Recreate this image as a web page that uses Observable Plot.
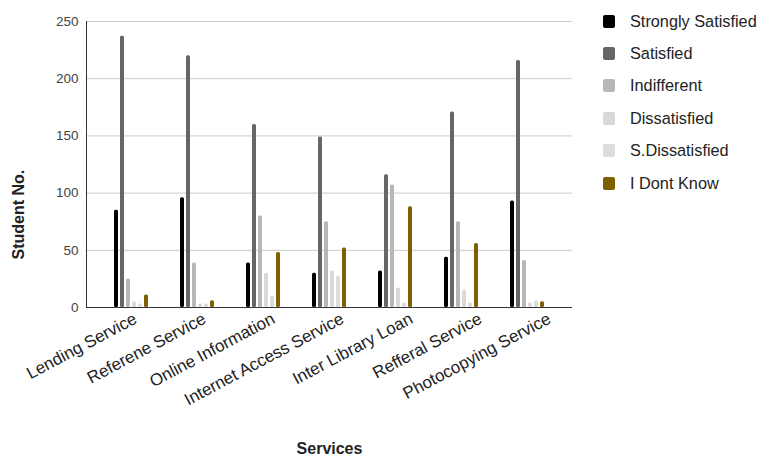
<!DOCTYPE html>
<html>
<head>
<meta charset="utf-8">
<script src="https://cdn.jsdelivr.net/npm/d3@7"></script>
<script src="https://cdn.jsdelivr.net/npm/@observablehq/plot@0.6"></script>
<style>
  html, body { margin: 0; padding: 0; background: #fff; }
  #chart { position: relative; width: 757px; height: 455px; font-family: "Liberation Sans", Arial, sans-serif; }
  #chart svg { position: absolute; left: 0; top: 0; }
  #legend { position: absolute; left: 603px; top: 5px; }
  .item { display: flex; align-items: center; height: 32.4px; font-size: 16.3px; color: #222; }
  .swatch { width: 12px; height: 13px; border-radius: 2px; margin-right: 15px; }
</style>
</head>
<body>
<div id="chart"><div id="legend"></div></div>
<script>
// Services surveyed (one group of bars each)
const services = [
  "Lending Service", "Referene Service", "Online Information",
  "Internet Access Service", "Inter Library Loan", "Refferal Service",
  "Photocopying Service"
];

// Response categories and their colours
const categories = ["Strongly Satisfied", "Satisfied", "Indifferent", "Dissatisfied", "S.Dissatisfied", "I Dont Know"];
const colors = ["#000000", "#666666", "#b7b7b7", "#d9d9d9", "#dcdcdc", "#7f6000"];

// Number of students per response, in service order
const stronglySatisfied = [85, 96, 39, 30, 32, 44, 93];
const satisfied         = [237, 220, 160, 149, 116, 171, 216];
const indifferent       = [25, 39, 80, 75, 107, 75, 41];
const dissatisfied      = [5, 3, 30, 32, 17, 15, 4];
const sDissatisfied     = [3, 3, 10, 27, 4, 4, 6];
const dontKnow          = [11, 6, 48, 52, 88, 56, 5];

const yTicks = [0, 50, 100, 150, 200, 250];

const series = [stronglySatisfied, satisfied, indifferent, dissatisfied, sDissatisfied, dontKnow];
const rows = services.flatMap((service, i) =>
  categories.map((category, j) => ({service, category, value: series[j][i]}))
);

// Shared layout for the three layers
const frame = {
  width: 757,
  height: 455,
  marginLeft: 86,
  marginRight: 185,
  marginTop: 21,
  marginBottom: 148,
  style: {fontFamily: "'Liberation Sans', Arial, sans-serif", fontSize: "13px", color: "#444", background: "transparent"}
};

// Back layer: grid, axes and titles
const axes = Plot.plot({
  ...frame,
  x: {domain: services, paddingInner: 0, paddingOuter: 0.18, label: null},
  y: {domain: [0, 250], label: null},
  marks: [
    Plot.ruleY(yTicks.slice(1), {stroke: "#cccccc", strokeWidth: 1}),
    Plot.axisY({ticks: yTicks, tickSize: 0, tickPadding: 8, label: null, fill: "#444", fontSize: 13.5}),
    Plot.axisX({anchor: "bottom", tickSize: 0, tickRotate: -28, tickPadding: 10, dx: 13, dy: 0, label: null, fill: "#222", fontSize: 17}),
    Plot.text(["Services"], {frameAnchor: "bottom", dy: 146, fontWeight: "bold", fontSize: 16, fill: "#222"}),
    Plot.text(["Student No."], {frameAnchor: "left", dx: -68, dy: 95, rotate: -90, fontWeight: "bold", fontSize: 16, fill: "#222"})
  ]
});

// Middle layer: grouped bars, one facet per service
const bars = Plot.plot({
  ...frame,
  fx: {domain: services, paddingInner: 0, paddingOuter: 0.18, axis: null},
  x: {domain: categories, paddingInner: 0.4, paddingOuter: 2.15, axis: null},
  y: {domain: [0, 250], axis: null},
  color: {domain: categories, range: colors},
  marks: [
    Plot.barY(rows, {fx: "service", x: "category", y: "value", fill: "category", rx: 1.5})
  ]
});

// Front layer: baseline and left axis line over the bars
const lines = Plot.plot({
  ...frame,
  y: {domain: [0, 250], axis: null},
  marks: [
    Plot.ruleY([0], {stroke: "#333", strokeWidth: 1}),
    Plot.frame({anchor: "left", stroke: "#333"})
  ]
});

const chart = document.getElementById("chart");
chart.prepend(lines);
chart.prepend(bars);
chart.prepend(axes);

// Legend beside the chart
const legend = d3.select("#legend");
categories.forEach((c, i) => {
  const item = legend.append("div").attr("class", "item");
  item.append("div").attr("class", "swatch").style("background", colors[i]);
  item.append("span").text(c);
});
</script>
</body>
</html>
